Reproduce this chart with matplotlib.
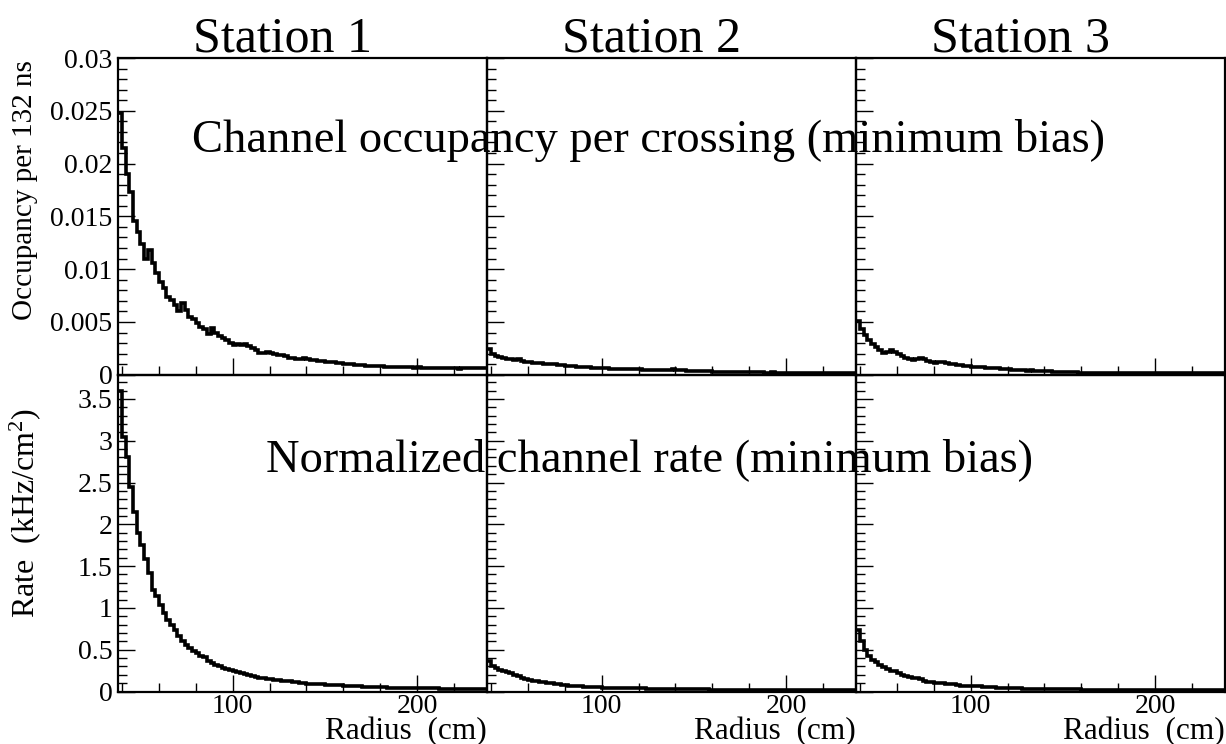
import numpy as np
import matplotlib
matplotlib.use("Agg")
import matplotlib.pyplot as plt
from matplotlib.ticker import MultipleLocator, FuncFormatter

plt.rcParams['font.family'] = ['Liberation Serif', 'DejaVu Serif']
plt.rcParams['mathtext.fontset'] = 'custom'
plt.rcParams['mathtext.rm'] = 'Liberation Serif'
plt.rcParams['mathtext.it'] = 'Liberation Serif:italic'

# ---- data ----
stations = ["Station 1", "Station 2", "Station 3"]
r_min, r_max = 38.0, 238.0   # radius range (cm), 2 cm bins

# occupancy per 132 ns, in units of 1e-3
occ1_e3 = [24.8, 21.5, 19.0, 17.3, 14.6, 13.5, 12.4, 11.0, 11.8, 10.6,
           9.6, 8.8, 8.2, 7.4, 7.1, 6.6, 6.0, 6.8, 6.1, 5.5,
           5.3, 4.9, 4.5, 4.3, 3.9, 4.4, 4.0, 3.7, 3.5, 3.3,
           3.0, 2.85, 2.9, 2.8, 2.95, 2.7, 2.5, 2.3, 2.1, 2.05,
           2.2, 2.1, 2.0, 1.9, 1.85, 1.75, 1.6, 1.55, 1.45, 1.5,
           1.6, 1.5, 1.4, 1.35, 1.3, 1.28, 1.25, 1.2, 1.2, 1.15,
           1.1, 1.05, 1.0, 0.98, 0.95, 0.92, 0.9, 0.86, 0.85, 0.83,
           0.8, 0.82, 0.78, 0.77, 0.75, 0.74, 0.75, 0.72, 0.7, 0.72,
           0.68, 0.7, 0.66, 0.62, 0.6, 0.6, 0.63, 0.66, 0.62, 0.6,
           0.64, 0.62, 0.58, 0.6, 0.64, 0.6, 0.6, 0.63, 0.65, 0.66]
occ2_e3 = [2.4, 2.0, 1.8, 1.7, 1.6, 1.5, 1.45, 1.35, 1.45, 1.3,
           1.25, 1.2, 1.15, 1.1, 1.1, 1.05, 1.0, 1.05, 1.0, 0.95,
           0.9, 0.85, 0.82, 0.8, 0.78, 0.75, 0.72, 0.7, 0.66, 0.64,
           0.62, 0.6, 0.6, 0.58, 0.56, 0.57, 0.55, 0.53, 0.52, 0.5,
           0.5, 0.51, 0.49, 0.47, 0.46, 0.47, 0.45, 0.44, 0.46, 0.48,
           0.5, 0.46, 0.44, 0.42, 0.4, 0.38, 0.36, 0.35, 0.34, 0.32,
           0.31, 0.3, 0.29, 0.28, 0.28, 0.27, 0.26, 0.25, 0.25, 0.24,
           0.23, 0.23, 0.22, 0.23, 0.22, 0.21, 0.21, 0.22, 0.21, 0.2,
           0.21, 0.2, 0.21, 0.2, 0.19, 0.2, 0.21, 0.2, 0.19, 0.2,
           0.21, 0.2, 0.19, 0.2, 0.21, 0.2, 0.19, 0.2, 0.21, 0.2]
occ3_e3 = [5.1, 4.3, 3.8, 3.3, 2.9, 2.6, 2.3, 2.05, 2.2, 2.35,
           2.15, 2.0, 1.8, 1.6, 1.45, 1.4, 1.5, 1.55, 1.45, 1.3,
           1.2, 1.15, 1.2, 1.25, 1.15, 1.05, 1.0, 0.95, 0.9, 0.85,
           0.8, 0.78, 0.75, 0.72, 0.7, 0.68, 0.65, 0.62, 0.6, 0.55,
           0.5, 0.5, 0.48, 0.46, 0.45, 0.42, 0.4, 0.42, 0.4, 0.36,
           0.35, 0.34, 0.32, 0.3, 0.28, 0.26, 0.25, 0.24, 0.23, 0.22,
           0.2, 0.2, 0.19, 0.2, 0.21, 0.19, 0.18, 0.19, 0.18, 0.17,
           0.18, 0.19, 0.18, 0.17, 0.18, 0.17, 0.16, 0.17, 0.18, 0.17,
           0.16, 0.17, 0.18, 0.17, 0.16, 0.17, 0.16, 0.17, 0.18, 0.17,
           0.16, 0.17, 0.16, 0.17, 0.18, 0.17, 0.16, 0.17, 0.16, 0.17]

# normalized channel rate, kHz/cm^2
rate1 = [3.6, 3.05, 2.8, 2.45, 2.15, 1.9, 1.75, 1.58, 1.42, 1.22,
         1.14, 1.03, 0.94, 0.86, 0.8, 0.74, 0.66, 0.6, 0.56, 0.52,
         0.49, 0.46, 0.43, 0.41, 0.37, 0.34, 0.32, 0.3, 0.28, 0.27,
         0.255, 0.25, 0.235, 0.22, 0.205, 0.195, 0.185, 0.175, 0.165, 0.16,
         0.155, 0.15, 0.14, 0.135, 0.13, 0.125, 0.12, 0.115, 0.11, 0.105,
         0.1, 0.095, 0.092, 0.09, 0.088, 0.085, 0.082, 0.08, 0.078, 0.075,
         0.072, 0.07, 0.067, 0.065, 0.062, 0.06, 0.058, 0.056, 0.054, 0.052,
         0.05, 0.05, 0.048, 0.047, 0.046, 0.045, 0.044, 0.043, 0.042, 0.041,
         0.04, 0.04, 0.039, 0.038, 0.037, 0.036, 0.036, 0.035, 0.034, 0.034,
         0.033, 0.033, 0.032, 0.032, 0.031, 0.031, 0.03, 0.03, 0.03, 0.03]
rate2 = [0.36, 0.31, 0.28, 0.26, 0.245, 0.235, 0.22, 0.2, 0.18, 0.16,
         0.145, 0.135, 0.125, 0.12, 0.115, 0.11, 0.105, 0.1, 0.095, 0.09,
         0.082, 0.075, 0.07, 0.068, 0.065, 0.06, 0.057, 0.054, 0.052, 0.05,
         0.048, 0.046, 0.045, 0.044, 0.043, 0.042, 0.041, 0.04, 0.04, 0.039,
         0.038, 0.037, 0.036, 0.035, 0.034, 0.033, 0.032, 0.031, 0.03, 0.03,
         0.029, 0.028, 0.028, 0.027, 0.026, 0.026, 0.025, 0.025, 0.024, 0.024,
         0.023, 0.023, 0.022, 0.022, 0.021, 0.021, 0.02, 0.02, 0.02, 0.019,
         0.019, 0.019, 0.018, 0.018, 0.018, 0.018, 0.017, 0.017, 0.017, 0.017,
         0.017, 0.017, 0.017, 0.017, 0.017, 0.017, 0.017, 0.017, 0.017, 0.017,
         0.017, 0.017, 0.017, 0.017, 0.017, 0.017, 0.017, 0.017, 0.017, 0.017]
rate3 = [0.74, 0.6, 0.5, 0.43, 0.38, 0.35, 0.32, 0.29, 0.27, 0.25,
         0.24, 0.22, 0.2, 0.18, 0.17, 0.165, 0.16, 0.15, 0.13, 0.115,
         0.11, 0.105, 0.1, 0.1, 0.095, 0.09, 0.085, 0.078, 0.07, 0.067,
         0.064, 0.062, 0.06, 0.06, 0.058, 0.056, 0.052, 0.05, 0.047, 0.045,
         0.043, 0.04, 0.04, 0.038, 0.036, 0.035, 0.034, 0.033, 0.032, 0.031,
         0.03, 0.029, 0.028, 0.028, 0.027, 0.026, 0.026, 0.025, 0.025, 0.024,
         0.024, 0.023, 0.023, 0.022, 0.022, 0.022, 0.021, 0.021, 0.021, 0.02,
         0.02, 0.02, 0.02, 0.02, 0.02, 0.02, 0.02, 0.02, 0.02, 0.02,
         0.02, 0.02, 0.02, 0.02, 0.02, 0.02, 0.02, 0.02, 0.02, 0.02,
         0.02, 0.02, 0.02, 0.02, 0.02, 0.02, 0.02, 0.02, 0.02, 0.02]

occ = [np.array(occ1_e3) * 1e-3, np.array(occ2_e3) * 1e-3, np.array(occ3_e3) * 1e-3]
rate = [np.array(rate1), np.array(rate2), np.array(rate3)]

# ---- figure ----
fig = plt.figure(figsize=(12.26, 7.44), dpi=100)
gs = fig.add_gridspec(2, 3, left=118/1226, right=1225/1226,
                      top=1-58/744, bottom=1-691.5/744, hspace=0, wspace=0)

fmt = FuncFormatter(lambda v, p: "%g" % round(v, 6))

for row, (data, ymax, major, minor) in enumerate(
        [(occ, 0.03, 0.005, 0.001), (rate, 3.79, 0.5, 0.1)]):
    for col in range(3):
        ax = fig.add_subplot(gs[row, col])
        vals = data[col]
        edges = np.linspace(r_min, r_max, len(vals) + 1)
        ax.stairs(vals, edges, color='black', lw=2.6, baseline=None)
        ax.set_xlim(r_min - 0.2, r_max)
        ax.set_ylim(0, ymax)
        ax.xaxis.set_major_locator(MultipleLocator(100))
        ax.xaxis.set_minor_locator(MultipleLocator(20))
        ax.yaxis.set_major_locator(MultipleLocator(major))
        ax.yaxis.set_minor_locator(MultipleLocator(minor))
        ax.tick_params(which='both', direction='in', top=False, right=False,
                       width=1.0, labelsize=20, pad=4)
        ax.tick_params(which='major', length=12.5)
        ax.tick_params(which='minor', length=6.5)
        for sp in ax.spines.values():
            sp.set_linewidth(1.6)
        ax.yaxis.set_major_formatter(fmt)
        if col != 0:
            ax.tick_params(labelleft=False)
        if row == 0:
            ax.tick_params(labelbottom=False)
            ax.text(0.445, 1.0 - 4/316, stations[col], transform=ax.transAxes,
                    ha='center', va='bottom', fontsize=36)
        else:
            ax.tick_params(axis='x', pad=2)
            ax.text(1.0, -0.079, "Radius  (cm)", transform=ax.transAxes,
                    ha='right', va='top', fontsize=22.5)
        ax.patch.set_alpha(0)

fig.text(25/1226, 1-60/744, "Occupancy per 132 ns", rotation=90,
         ha='center', va='top', fontsize=21)
fig.text(25/1226, 1-513/744, "Rate  (kHz/cm$^2$)", rotation=90,
         ha='center', va='center', fontsize=23)

fig.text(648/1226, 1-140/744, "Channel occupancy per crossing (minimum bias)",
         ha='center', va='center', fontsize=33.5, zorder=10)
fig.text(650/1226, 1-460/744, "Normalized channel rate (minimum bias)",
         ha='center', va='center', fontsize=33.5, zorder=10)

fig.savefig("out.png", dpi=100)
